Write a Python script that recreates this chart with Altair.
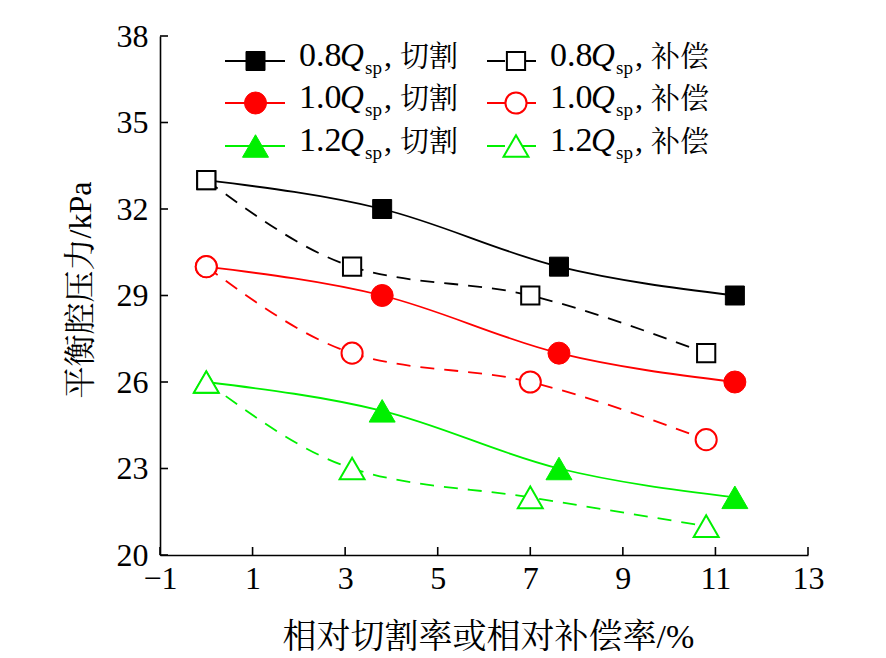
import altair as alt
import pandas as pd

# ---------------- data ----------------
x_cut = [0, 3.8, 7.62, 11.42]      # 相对切割率/%
x_comp = [0, 3.15, 7.0, 10.8]      # 相对补偿率/%
y_cut_08 = [33, 32, 30, 29]
y_comp_08 = [33, 30, 29, 27]
y_cut_10 = [30, 29, 27, 26]
y_comp_10 = [30, 27, 26, 24]
y_cut_12 = [26, 25, 23, 22]
y_comp_12 = [26, 23, 22, 21]
x_ticks = [-1, 1, 3, 5, 7, 9, 11, 13]
y_ticks = [20, 23, 26, 29, 32, 35, 38]
flow_labels = ["0.8", "1.0", "1.2"]
mode_labels = ["切割", "补偿"]

W, H = 648, 519
SERIF = "Liberation Serif, Times New Roman, Noto Serif CJK SC, Noto Sans CJK SC"
CJK = "Noto Serif CJK SC, Noto Sans CJK SC"
BLACK, RED, GREEN = "#000000", "#ff0000", "#00f000"
colors = [BLACK, RED, GREEN]
shapes = ["square", "circle", "triangle-up"]
sizes = [361, 484, 676]

series = [
    (x_cut, y_cut_08, 0, 0), (x_cut, y_cut_10, 1, 0), (x_cut, y_cut_12, 2, 0),
    (x_comp, y_comp_08, 0, 1), (x_comp, y_comp_10, 1, 1), (x_comp, y_comp_12, 2, 1),
]

xscale = alt.Scale(domain=[-1, 13], nice=False, zero=False)
yscale = alt.Scale(domain=[20, 38], nice=False, zero=False)

xaxis = alt.Axis(values=x_ticks, grid=False, ticks=False, labelPadding=8,
                 labelFont=SERIF, labelFontSize=32, labelColor="black",
                 domainColor="black", domainWidth=1.6,
                 title="相对切割率或相对补偿率/%", titleFont=SERIF, titleFontSize=34,
                 titleFontWeight="normal", titleColor="black",
                 titleX=W / 2 + 4, titleY=82, titleBaseline="middle", titleAlign="center",
                 labelFlush=False, labelOverlap=False)
yaxis = alt.Axis(values=y_ticks, grid=False, ticks=False, labelPadding=12,
                 labelFont=SERIF, labelFontSize=32, labelColor="black",
                 domainColor="black", domainWidth=1.6,
                 title="平衡腔压力/kPa", titleFont=SERIF, titleFontSize=32,
                 titleFontWeight="normal", titleColor="black",
                 titleX=-80, titleY=H / 2 - 6, titleAngle=-90, titleBaseline="middle",
                 titleAlign="center", labelFlush=False, labelOverlap=False)

X = lambda f: alt.X(f, scale=xscale, axis=xaxis)
Y = lambda f: alt.Y(f, scale=yscale, axis=yaxis)

layers = []
line_layers = []
point_layers = []
for i, (xs, ys, ci, mi) in enumerate(series):
    df = pd.DataFrame({"x": xs, "y": ys})
    lkw = dict(interpolate="monotone", color=colors[ci], strokeWidth=1.8)
    if mi == 1:
        lkw["strokeDash"] = [14, 10]
    line_layers.append(alt.Chart(df).mark_line(**lkw).encode(x=X("x:Q"), y=Y("y:Q")))
    if mi == 0:
        pk = dict(shape=shapes[ci], size=sizes[ci], filled=True, fill=colors[ci],
                  stroke=colors[ci], strokeWidth=1, opacity=1)
    else:
        pk = dict(shape=shapes[ci], size=sizes[ci] * 0.92, filled=False, fill="white",
                  fillOpacity=1, stroke=colors[ci], strokeWidth=2, opacity=1)
    point_layers.append((mi, alt.Chart(df).mark_point(**pk).encode(x=X("x:Q"), y=Y("y:Q"))))

layers += line_layers
layers += [p for m, p in point_layers if m == 0]
layers += [p for m, p in point_layers if m == 1]

# inward ticks
xt = pd.DataFrame({"x": x_ticks})
yt = pd.DataFrame({"y": y_ticks})
layers.append(alt.Chart(xt).mark_rule(color="black", strokeWidth=1.6).encode(
    x=X("x:Q"), y=alt.value(H), y2=alt.value(H - 8)))
layers.append(alt.Chart(yt).mark_rule(color="black", strokeWidth=1.6).encode(
    y=Y("y:Q"), x=alt.value(0), x2=alt.value(8)))

# legend (layout)
one = alt.Data(values=[{"a": 1}])
row_y = [25, 67, 110]
cols = [dict(l0=65, l1=125, m=95.5, t=139, dash=None),
        dict(l0=327, l1=378, m=356, t=390, dash=[18, 13])]
for ci in range(3):
    for mi in range(2):
        c = cols[mi]
        yy = row_y[ci]
        rk = dict(color=colors[ci], strokeWidth=1.8)
        if c["dash"]:
            rk["strokeDash"] = c["dash"]
        layers.append(alt.Chart(one).mark_rule(**rk).encode(
            x=alt.value(c["l0"]), x2=alt.value(c["l1"]), y=alt.value(yy)))
        if mi == 0:
            pk = dict(shape=shapes[ci], size=sizes[ci], filled=True, fill=colors[ci],
                      stroke=colors[ci], strokeWidth=1, opacity=1)
        else:
            pk = dict(shape=shapes[ci], size=sizes[ci] * 0.92, filled=False, fill="white",
                      fillOpacity=1, stroke=colors[ci], strokeWidth=2, opacity=1)
        layers.append(alt.Chart(one).mark_point(**pk).encode(
            x=alt.value(c["m"]), y=alt.value(yy)))
        tb = yy + 5
        t0 = c["t"]
        parts = [
            (flow_labels[ci], t0, tb, 34, "normal", SERIF),
            ("Q", t0 + 41, tb, 33, "italic", SERIF),
            ("sp", t0 + 66, tb + 8, 19, "normal", SERIF),
            (",", t0 + 85, tb, 32, "normal", SERIF),
            (mode_labels[mi], t0 + 101, tb + 1, 29, "normal", CJK),
        ]
        for txt, px, py, fs, st, ff in parts:
            layers.append(alt.Chart(one).mark_text(
                text=txt, align="left", baseline="alphabetic", fontSize=fs,
                fontStyle=st, font=ff, color="black").encode(
                x=alt.value(px), y=alt.value(py)))

chart = alt.layer(*layers).properties(
    width=W, height=H,
    autosize=alt.AutoSizeParams(type="none"),
    padding={"left": 152, "top": 28, "right": 70, "bottom": 103},
    background="white",
).configure_view(stroke=None)

chart.save("out.html", embed_options={"renderer": "svg", "actions": False})
